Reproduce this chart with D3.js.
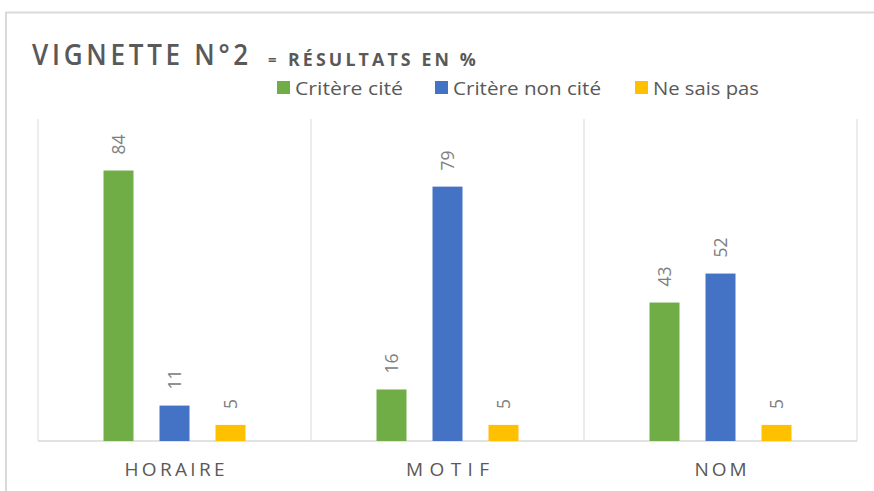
<!DOCTYPE html>
<html><head><meta charset="utf-8">
<script src="https://cdn.jsdelivr.net/npm/d3@7"></script>
<style>body{margin:0;background:#fff;}svg{display:block;}</style>
</head><body>
<script>
const categories = ["HORAIRE", "MOTIF", "NOM"];
const seriesNames = ["Critère cité", "Critère non cité", "Ne sais pas"];
const critereCite = [84, 16, 43];
const critereNonCite = [11, 79, 52];
const neSaisPas = [5, 5, 5];
const seriesValues = [critereCite, critereNonCite, neSaisPas];
const colors = ["#70ad47", "#4472c4", "#ffc000"];

(function () {
const W = 874, H = 491;
const svg = d3.select("body").append("svg").attr("width", W).attr("height", H);
const font = "'Open Sans', 'Noto Sans', sans-serif";

// outer frame
svg.append("line").attr("x1", 5).attr("x2", W).attr("y1", 12.5).attr("y2", 12.5).attr("stroke", "#d9d9d9").attr("stroke-width", 2);
svg.append("line").attr("x1", 6).attr("x2", 6).attr("y1", 12).attr("y2", H).attr("stroke", "#d9d9d9").attr("stroke-width", 2);

const pLeft = 38, pRight = 857, pTop = 119, pBottom = 441;
const x = d3.scaleBand().domain(categories).range([pLeft, pRight]).paddingInner(0).paddingOuter(0);
const y = d3.scaleLinear().domain([0, 100]).range([pBottom, pTop]);
const inner = d3.scaleBand().domain(d3.range(3)).range([-84, 84])
  .paddingInner(26 / 56).paddingOuter(13 / 56);

// vertical gridlines (category separators)
const seps = [pLeft, ...categories.map(c => x(c) + x.bandwidth())];
svg.selectAll(".sep").data(seps).join("line")
  .attr("x1", d => d).attr("x2", d => d).attr("y1", pTop).attr("y2", pBottom)
  .attr("stroke", "#d9d9d9").attr("stroke-width", 1);
svg.append("line").attr("x1", pLeft).attr("x2", pRight).attr("y1", pBottom).attr("y2", pBottom)
  .attr("stroke", "#d9d9d9").attr("stroke-width", 1.5);

// bars
categories.forEach((c, ci) => {
  const cx = x(c) + x.bandwidth() / 2;
  seriesValues.forEach((vals, si) => {
    const bx = cx + inner(si);
    const v = vals[ci];
    svg.append("rect").attr("x", bx).attr("width", inner.bandwidth())
      .attr("y", y(v)).attr("height", pBottom - y(v)).attr("fill", colors[si]);
    const tx = bx + inner.bandwidth() / 2, ty = y(v) - 16;
    svg.append("text").attr("transform", `translate(${tx + 6.5},${ty}) rotate(-90)`)
      .attr("text-anchor", "start").attr("font-family", font)
      .attr("font-size", 17.5).attr("fill", "#808080").text(v);
  });
});

// category labels
const labW = {"HORAIRE": 100, "MOTIF": 83, "NOM": 52};
const xAxis = svg.append("g").attr("transform", `translate(0,${pBottom})`)
  .call(d3.axisBottom(x).tickSize(0).tickPadding(0));
xAxis.select(".domain").remove();
xAxis.selectAll("text").attr("font-family", font).attr("font-size", 19)
  .attr("fill", "#595959").attr("y", 35).attr("dy", 0)
  .attr("textLength", d => labW[d]).attr("lengthAdjust", "spacing");

// title
svg.append("text").attr("x", 32).attr("y", 65).attr("font-family", font).attr("fill", "#595959")
  .attr("font-size", 28).attr("font-weight", 600).attr("letter-spacing", "4px")
  .attr("textLength", 220).attr("lengthAdjust", "spacingAndGlyphs").text("VIGNETTE  N°2");
svg.append("text").attr("x", 268).attr("y", 65).attr("font-family", font).attr("fill", "#595959")
  .attr("font-size", 15).attr("font-weight", 700).text("=");
svg.append("text").attr("x", 288).attr("y", 66).attr("font-family", font).attr("fill", "#595959")
  .attr("font-size", 17).attr("font-weight", 700).attr("letter-spacing", "3px")
  .attr("textLength", 191).attr("lengthAdjust", "spacingAndGlyphs").text("RÉSULTATS EN %");

// legend
const legX = [277, 435, 635];
const legW = [108, 148, 106];
seriesNames.forEach((n, i) => {
  svg.append("rect").attr("x", legX[i]).attr("y", 81).attr("width", 13).attr("height", 13).attr("fill", colors[i]);
  svg.append("text").attr("x", legX[i] + 18).attr("y", 95).attr("font-family", font)
    .attr("font-size", 18).attr("fill", "#595959")
    .attr("textLength", legW[i]).attr("lengthAdjust", "spacingAndGlyphs").text(n);
});
})();
</script>
</body></html>
